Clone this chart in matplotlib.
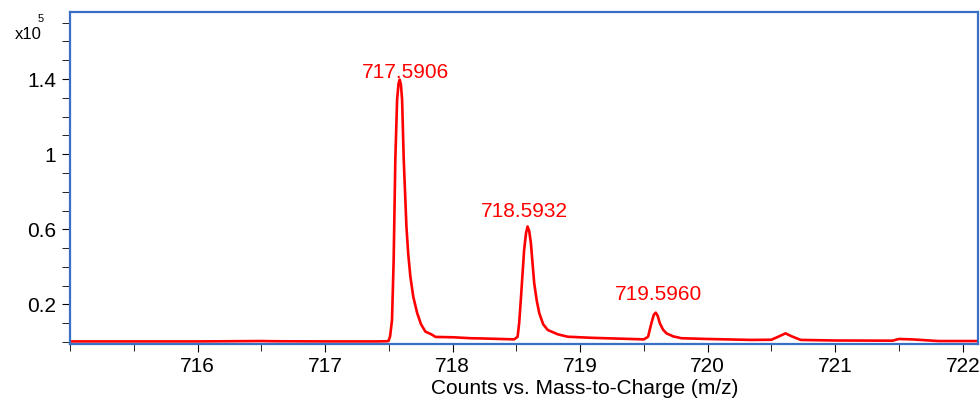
import matplotlib
matplotlib.use('Agg')
import matplotlib.pyplot as plt
from matplotlib.ticker import MultipleLocator, FixedLocator

# spectrum points (m/z, counts x10^5)
mz = [715.0, 715.5, 716.0, 716.5, 716.6, 717.0, 717.4, 717.49,
      717.498, 717.51, 717.525, 717.538, 717.551, 717.565, 717.576, 717.585,
      717.595, 717.604, 717.617, 717.638, 717.652, 717.669, 717.692, 717.722,
      717.752, 717.787, 717.827, 717.843, 717.866,
      718.008, 718.142, 718.22, 718.483,
      718.51, 718.522, 718.535, 718.561, 718.576, 718.588, 718.601, 718.614,
      718.640, 718.66, 718.68, 718.71, 718.746,
      718.824, 718.903, 719.1, 719.3, 719.5,
      719.533, 719.559, 719.578, 719.593, 719.608, 719.625, 719.65, 719.677,
      719.73, 719.795, 720.0, 720.346,
      720.5, 720.56, 720.61, 720.66, 720.73, 721.0, 721.45, 721.5, 721.6,
      721.81, 722.2]
counts = [0.003, 0.003, 0.003, 0.005, 0.004, 0.003, 0.003, 0.004,
          0.006, 0.03, 0.117, 0.437, 0.971, 1.291, 1.375, 1.397,
          1.37, 1.291, 0.971, 0.615, 0.47, 0.348, 0.24, 0.155,
          0.095, 0.055, 0.043, 0.037, 0.027,
          0.025, 0.020, 0.019, 0.014,
          0.028, 0.1, 0.224, 0.49, 0.58, 0.615, 0.59, 0.526,
          0.313, 0.22, 0.153, 0.095, 0.064,
          0.041, 0.028, 0.022, 0.018, 0.014,
          0.028, 0.1, 0.145, 0.156, 0.14, 0.1, 0.066, 0.046,
          0.03, 0.02, 0.016, 0.011,
          0.012, 0.03, 0.046, 0.03, 0.011, 0.008, 0.007, 0.016, 0.014,
          0.005, 0.005]

peak_mz = [717.5906, 718.5932, 719.5960]
peak_counts = [1.397, 0.615, 0.156]
peak_labels = ['717.5906', '718.5932', '719.5960']

xticks_major = [716, 717, 718, 719, 720, 721, 722]
yticks_major = [0.2, 0.6, 1.0, 1.4]
ytick_labels = ['0.2', '0.6', '1', '1.4']

plt.rcParams['font.family'] = ['Liberation Sans', 'DejaVu Sans']

fig = plt.figure(figsize=(9.8, 4), dpi=100)
ax = fig.add_axes([70/980, 1-344/400, 908/980, 332/400])

ax.plot(mz, counts, color='#ff0000', lw=1.9, solid_joinstyle='round')

# label offsets in points (the first label sits right on its peak)
offsets = [(4, -1.5), (-3, 4), (1.5, 6)]
for x, y, t, off in zip(peak_mz, peak_counts, peak_labels, offsets):
    ax.annotate(t, xy=(x, y), xytext=off, textcoords='offset points',
                ha='center', va='bottom', color='#ff0000', fontsize=15)

ax.set_xlim(715.0, 722.12)
ax.set_ylim(-0.0107, 1.757)

ax.xaxis.set_major_locator(FixedLocator(xticks_major))
ax.xaxis.set_minor_locator(MultipleLocator(0.5))
ax.yaxis.set_major_locator(FixedLocator(yticks_major))
ax.set_yticklabels(ytick_labels)
ax.yaxis.set_minor_locator(MultipleLocator(0.1))

ax.tick_params(axis='both', which='major', labelsize=15, direction='out', length=6, color='black')
ax.tick_params(axis='both', which='minor', direction='out', length=6, color='black')
ax.tick_params(axis='x', which='minor', length=5)
ax.tick_params(axis='y', which='major', pad=4)

for s in ax.spines.values():
    s.set_color('#3a6fc4')
    s.set_linewidth(1.6)

ax.set_xlabel('Counts vs. Mass-to-Charge (m/z)', fontsize=15)
ax.xaxis.set_label_coords(0.567, -0.105)

fig.text(15/980, 1-39/400, 'x10', fontsize=12, ha='left', va='baseline')
fig.text(38/980, 1-22/400, '5', fontsize=8, ha='left', va='baseline')

plt.savefig('out.png', dpi=100)
